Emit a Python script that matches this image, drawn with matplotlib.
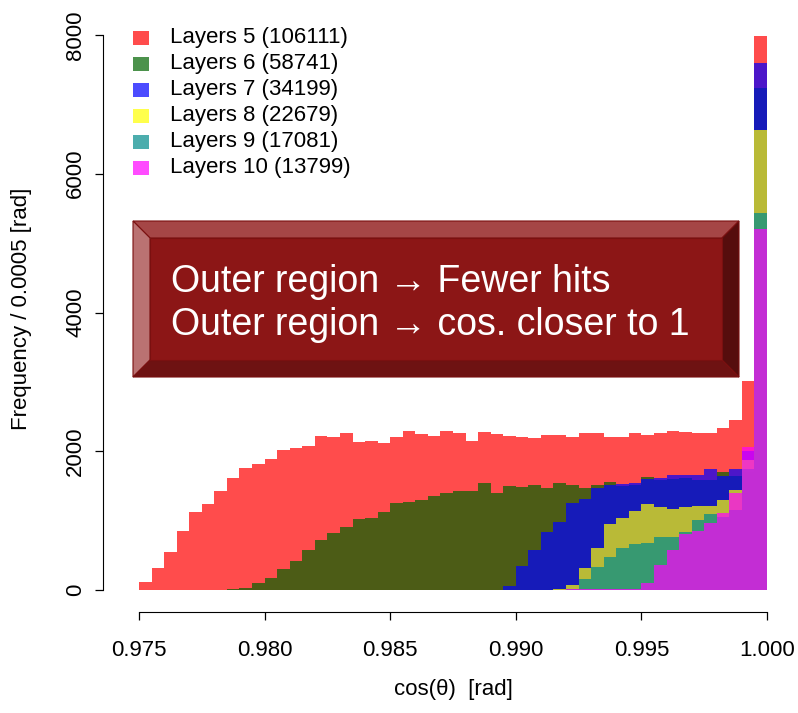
import numpy as np
import matplotlib
matplotlib.use("Agg")
import matplotlib.pyplot as plt
from matplotlib.patches import Polygon, Rectangle

# histogram bins (cos theta), width 0.0005
bin_width = 0.0005
bin_edges = np.round(0.975 + bin_width * np.arange(51), 6)

layer5 = [120, 320, 543, 855, 1129, 1240, 1432, 1619, 1754, 1812,
          1884, 2018, 2042, 2076, 2220, 2201, 2268, 2129, 2148, 2124,
          2201, 2297, 2244, 2225, 2297, 2258, 2153, 2282, 2249, 2220,
          2201, 2186, 2234, 2234, 2210, 2258, 2268, 2210, 2210, 2258,
          2234, 2258, 2297, 2277, 2268, 2268, 2330, 2450, 3017, 7990]
layer6 = [0, 0, 0, 0, 0, 0, 5, 20, 30, 96,
          168, 303, 418, 577, 721, 817, 913, 1019, 1033, 1129,
          1249, 1264, 1297, 1355, 1403, 1432, 1432, 1547, 1403, 1499,
          1489, 1514, 1475, 1538, 1514, 1466, 1514, 1562, 1500, 1520,
          1624, 1590, 1600, 1620, 1586, 1586, 1706, 1650, 1700, 7232]
layer7 = [0, 0, 0, 0, 0, 0, 0, 0, 0, 0,
          0, 0, 0, 0, 0, 0, 0, 0, 0, 0,
          0, 0, 0, 0, 0, 0, 0, 0, 5, 62,
          346, 577, 841, 985, 1249, 1312, 1466, 1514, 1528, 1547,
          1595, 1610, 1658, 1658, 1658, 1744, 1643, 1744, 2008, 7592]
layer8 = [0, 0, 0, 0, 0, 0, 0, 0, 0, 0,
          0, 0, 0, 0, 0, 0, 0, 0, 0, 0,
          0, 0, 0, 0, 0, 0, 0, 0, 0, 0,
          0, 0, 0, 10, 72, 312, 601, 951, 1033, 1143,
          1240, 1201, 1163, 1192, 1211, 1211, 1297, 1441, 1874, 6630]
layer9 = [0, 0, 0, 0, 0, 0, 0, 0, 0, 0,
          0, 0, 0, 0, 0, 0, 0, 0, 0, 0,
          0, 0, 0, 0, 0, 0, 0, 0, 0, 0,
          0, 0, 0, 0, 10, 154, 330, 471, 601, 658,
          682, 769, 769, 830, 1009, 1095, 1050, 1153, 1740, 5430]
layer10 = [0, 0, 0, 0, 0, 0, 0, 0, 0, 0,
           0, 0, 0, 0, 0, 0, 0, 0, 0, 0,
           3, 3, 3, 3, 3, 3, 4, 4, 4, 4,
           5, 5, 6, 6, 8, 8, 10, 12, 15, 20,
           96, 360, 577, 810, 855, 970, 1105, 1393, 2056, 5200]

layer_names = ["Layers 5 (106111)", "Layers 6 (58741)", "Layers 7 (34199)",
               "Layers 8 (22679)", "Layers 9 (17081)", "Layers 10 (13799)"]
layer_colors = ["#FF0000", "#006400", "#0000FF", "#FFFF00", "#008B8B", "#FF00FF"]
x_ticks = [0.975, 0.980, 0.985, 0.990, 0.995, 1.000]
y_ticks = [0, 2000, 4000, 6000, 8000]

W, H = 798, 713
fam = ["Liberation Sans", "DejaVu Sans"]
plt.rcParams["font.family"] = fam
FS = 16


def fx(px):
    return px / W


def fy(py):
    return 1 - py / H


fig = plt.figure(figsize=(W / 100, H / 100), dpi=100)

# axes placement in pixels
ax_l, ax_r, ax_t, ax_b = 103, 790, 15, 612
ax = fig.add_axes([fx(ax_l), fy(ax_b), (ax_r - ax_l) / W, (ax_b - ax_t) / H])
ppx = (767 - 139) / 0.025
ppy = (590 - 35) / 8000
ax.set_xlim(0.975 - (139 - ax_l) / ppx, 1.0 + (ax_r - 767) / ppx)
ax.set_ylim(-(ax_b - 590) / ppy, 8000 + (35 - ax_t) / ppy)

layers = [layer5, layer6, layer7, layer8, layer9, layer10]
for counts, col in zip(layers, layer_colors):
    ax.stairs(counts, bin_edges, fill=True, color=col, alpha=0.7, linewidth=0)

for s in ["top", "right"]:
    ax.spines[s].set_visible(False)
ax.spines["left"].set_bounds(0, 8000)
ax.spines["bottom"].set_bounds(0.975, 1.0)
ax.set_xticks(x_ticks)
ax.set_xticklabels([f"{v:.3f}" for v in x_ticks])
ax.set_yticks(y_ticks)
ax.set_yticklabels([str(v) for v in y_ticks])
ax.tick_params(axis="both", labelsize=FS, length=6, width=0.9)
ax.tick_params(axis="x", pad=14)
ax.tick_params(axis="y", pad=6, labelrotation=90)
for lab in ax.get_yticklabels():
    lab.set_va("center")

fig.text(fx(453), fy(690), "cos(θ)  [rad]", ha="center", va="center", fontsize=FS)
fig.text(fx(22), fy(309), "Frequency / 0.0005 [rad]", ha="center", va="center",
         rotation=90, fontsize=FS)

# legend drawn by hand
for i, (name, col) in enumerate(zip(layer_names, layer_colors)):
    yc = 38 + 26 * i
    fig.patches.append(Rectangle((fx(133), fy(yc + 7)), 16 / W, 14 / H,
                                 transform=fig.transFigure, facecolor=col,
                                 alpha=0.7, linewidth=0))
    fig.text(fx(170), fy(yc), name, ha="left", va="center", fontsize=FS)

# bevelled annotation box
x0, x1, y0, y1 = 133, 739, 221, 377
b = 17
xi0, xi1, yi0, yi1 = x0 + b, x1 - b, y0 + b, y1 - b


def poly(pts, col):
    p = Polygon([(fx(a), fy(c)) for a, c in pts], closed=True,
                transform=fig.transFigure, facecolor=col, edgecolor="#7A1010",
                linewidth=0.8)
    fig.patches.append(p)


poly([(x0, y0), (x1, y0), (xi1, yi0), (xi0, yi0)], "#A54646")   # top
poly([(x0, y0), (xi0, yi0), (xi0, yi1), (x0, y1)], "#BA7272")   # left
poly([(x1, y0), (x1, y1), (xi1, yi1), (xi1, yi0)], "#560D0D")   # right
poly([(x0, y1), (xi0, yi1), (xi1, yi1), (x1, y1)], "#6E1212")   # bottom
poly([(xi0, yi0), (xi1, yi0), (xi1, yi1), (xi0, yi1)], "#8C1616")  # face

fig.text(fx(171), fy(292), "Outer region → Fewer hits", ha="left", va="baseline",
         fontsize=27, color="white")
fig.text(fx(171), fy(335), "Outer region → cos. closer to 1", ha="left",
         va="baseline", fontsize=27, color="white")

fig.savefig("out.png", dpi=100)
